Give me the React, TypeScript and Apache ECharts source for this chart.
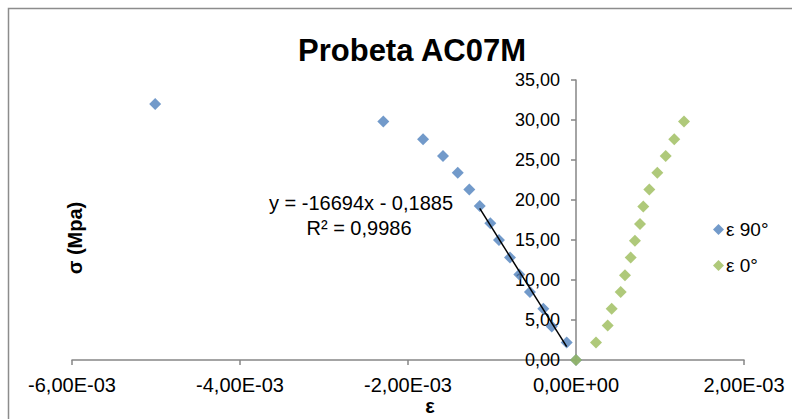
import React, { useEffect, useRef } from "react";
import * as echarts from "echarts";

const chartTitle = "Probeta AC07M";
const xAxisTitle = "ε";
const yAxisTitle = "σ (Mpa)";
const seriesNames = ["ε 90°", "ε 0°"];

// ε 90° (strain, stress in MPa)
const strain90 = [0, -1.11e-4, -2.89e-4, -3.89e-4, -5.48e-4, -6.75e-4, -7.86e-4, -9.17e-4, -1.02e-3, -1.146e-3, -1.27e-3, -1.408e-3, -1.583e-3, -1.821e-3, -2.294e-3, -5.01e-3];
const stress90 = [0, 2.2, 4.2, 6.4, 8.5, 10.7, 12.8, 15.0, 17.1, 19.25, 21.3, 23.4, 25.5, 27.6, 29.8, 32.0];

// ε 0°
const strain0 = [0, 2.38e-4, 3.77e-4, 4.25e-4, 5.32e-4, 5.83e-4, 6.51e-4, 7.02e-4, 7.62e-4, 8.01e-4, 8.73e-4, 9.68e-4, 1.068e-3, 1.17e-3, 1.286e-3];
const stress0 = [0, 2.2, 4.3, 6.4, 8.5, 10.6, 12.8, 14.9, 17.0, 19.2, 21.3, 23.4, 25.5, 27.6, 29.8];

// Linear trendline of ε 90° (fitted on its points from index 1 to 9)
const trendSlope = -16694;
const trendIntercept = -0.1885;
const trendR2 = 0.9986;
const trendFromIndex = 1;
const trendToIndex = 9;

const xTicks = { min: -0.006, max: 0.002, interval: 0.002 };
const yTicks = { min: 0, max: 35, interval: 5 };

const FONT = "'Liberation Sans', Arial, sans-serif";

const GRID = { left: 72, right: 48, top: 80, bottom: 59 };
const W = 792;

function fmtComma(v: number, d: number) {
  return v.toFixed(d).replace(".", ",");
}

function fmtSci(v: number) {
  if (v === 0) return "0,00E+00";
  const sign = v < 0 ? "-" : "";
  const a = Math.abs(v);
  let e = Math.floor(Math.log10(a));
  let m = a / Math.pow(10, e);
  if (Number(m.toFixed(2)) >= 10) {
    m /= 10;
    e += 1;
  }
  const es = (e < 0 ? "-" : "+") + String(Math.abs(e)).padStart(2, "0");
  return sign + fmtComma(m, 2) + "E" + es;
}

export default function App() {
  const ref = useRef<HTMLDivElement>(null);

  useEffect(() => {
    if (!ref.current) return;
    const chart = echarts.init(ref.current, undefined, { renderer: "svg" });

    const d90 = strain90.map((x, i) => [x, stress90[i]]);
    const d0 = strain0.map((x, i) => [x, stress0[i]]);
    const tx1 = strain90[trendFromIndex];
    const tx2 = strain90[trendToIndex];
    const trend = [
      [tx1, trendSlope * tx1 + trendIntercept],
      [tx2, trendSlope * tx2 + trendIntercept],
    ];
    const eqText =
      "y = " + String(trendSlope) + "x " + (trendIntercept < 0 ? "- " : "+ ") + fmtComma(Math.abs(trendIntercept), 4);
    const r2Text = "R² = " + fmtComma(trendR2, 4);

    const axisColor = "#868686";
    // place the y axis where x = 0 (Excel "vertical axis crosses at 0")
    const plotW = W - GRID.left - GRID.right;
    const zeroOffset = ((0 - xTicks.min) / (xTicks.max - xTicks.min)) * plotW;

    chart.setOption({
      animation: false,
      backgroundColor: "#ffffff",
      title: {
        text: chartTitle,
        left: 407,
        top: 30,
        textAlign: "center",
        textStyle: { fontFamily: FONT, fontSize: 31, fontWeight: "bold", color: "#000" },
      },
      grid: { ...GRID, containLabel: false },
      legend: {
        data: seriesNames,
        orient: "vertical",
        left: 708,
        top: 215,
        itemGap: 17,
        itemWidth: 11,
        itemHeight: 11,
        icon: "diamond",
        textStyle: { fontFamily: FONT, fontSize: 19, color: "#000", padding: [0, 0, 0, -3] },
      },
      xAxis: {
        type: "value",
        min: xTicks.min,
        max: xTicks.max,
        interval: xTicks.interval,
        splitLine: { show: false },
        axisLine: { onZero: true, lineStyle: { color: axisColor, width: 1.5 } },
        axisTick: { show: true, length: 5, lineStyle: { color: axisColor, width: 1.5 } },
        axisLabel: {
          margin: 15,
          formatter: (v: number) => fmtSci(v),
          fontFamily: FONT,
          fontSize: 20,
          color: "#000",
        },
      },
      yAxis: {
        type: "value",
        min: yTicks.min,
        max: yTicks.max,
        interval: yTicks.interval,
        offset: -zeroOffset,
        splitLine: { show: false },
        axisLine: { show: true, onZero: false, lineStyle: { color: axisColor, width: 1.5 } },
        axisTick: { show: true, length: 5, lineStyle: { color: axisColor, width: 1.5 } },
        axisLabel: {
          margin: 16,
          formatter: (v: number) => fmtComma(v, 2),
          fontFamily: FONT,
          fontSize: 18,
          color: "#000",
        },
      },
      graphic: [
        {
          type: "rect",
          shape: { x: 8.5, y: 8.5, width: 800, height: 430 },
          style: { fill: "none", stroke: "#8c8c8c", lineWidth: 1.5 },
          silent: true,
        },
        {
          type: "text",
          x: 361,
          y: 203,
          style: { text: eqText, fontFamily: FONT, fontSize: 20, fill: "#000", textAlign: "center", textVerticalAlign: "middle" },
        },
        {
          type: "text",
          x: 359,
          y: 228,
          style: { text: r2Text, fontFamily: FONT, fontSize: 20, fill: "#000", textAlign: "center", textVerticalAlign: "middle" },
        },
        {
          type: "text",
          x: 430,
          y: 406,
          style: { text: xAxisTitle, fontFamily: FONT, fontSize: 20, fontWeight: "bold", fill: "#000", textAlign: "center", textVerticalAlign: "middle" },
        },
        {
          type: "text",
          x: 75,
          y: 238,
          rotation: Math.PI / 2,
          style: { text: yAxisTitle, fontFamily: FONT, fontSize: 20, fontWeight: "bold", fill: "#000", textAlign: "center", textVerticalAlign: "middle" },
        },
      ],
      series: [
        {
          name: seriesNames[0],
          type: "scatter",
          data: d90,
          symbol: "diamond",
          symbolSize: 12,
          itemStyle: { color: "#4F81BD" },
          z: 2,
        },
        {
          name: seriesNames[1],
          type: "scatter",
          data: d0,
          symbol: "diamond",
          symbolSize: 12,
          itemStyle: { color: "#9BBB59" },
          z: 3,
        },
        {
          name: "trend",
          type: "line",
          data: trend,
          symbol: "none",
          lineStyle: { color: "#000", width: 1.5 },
          z: 4,
        },
      ],
    });

    return () => chart.dispose();
  }, []);

  return (
    <div
      ref={ref}
      style={{ position: "fixed", left: 0, top: 0, width: 792, height: 419, background: "#fff" }}
    />
  );
}
